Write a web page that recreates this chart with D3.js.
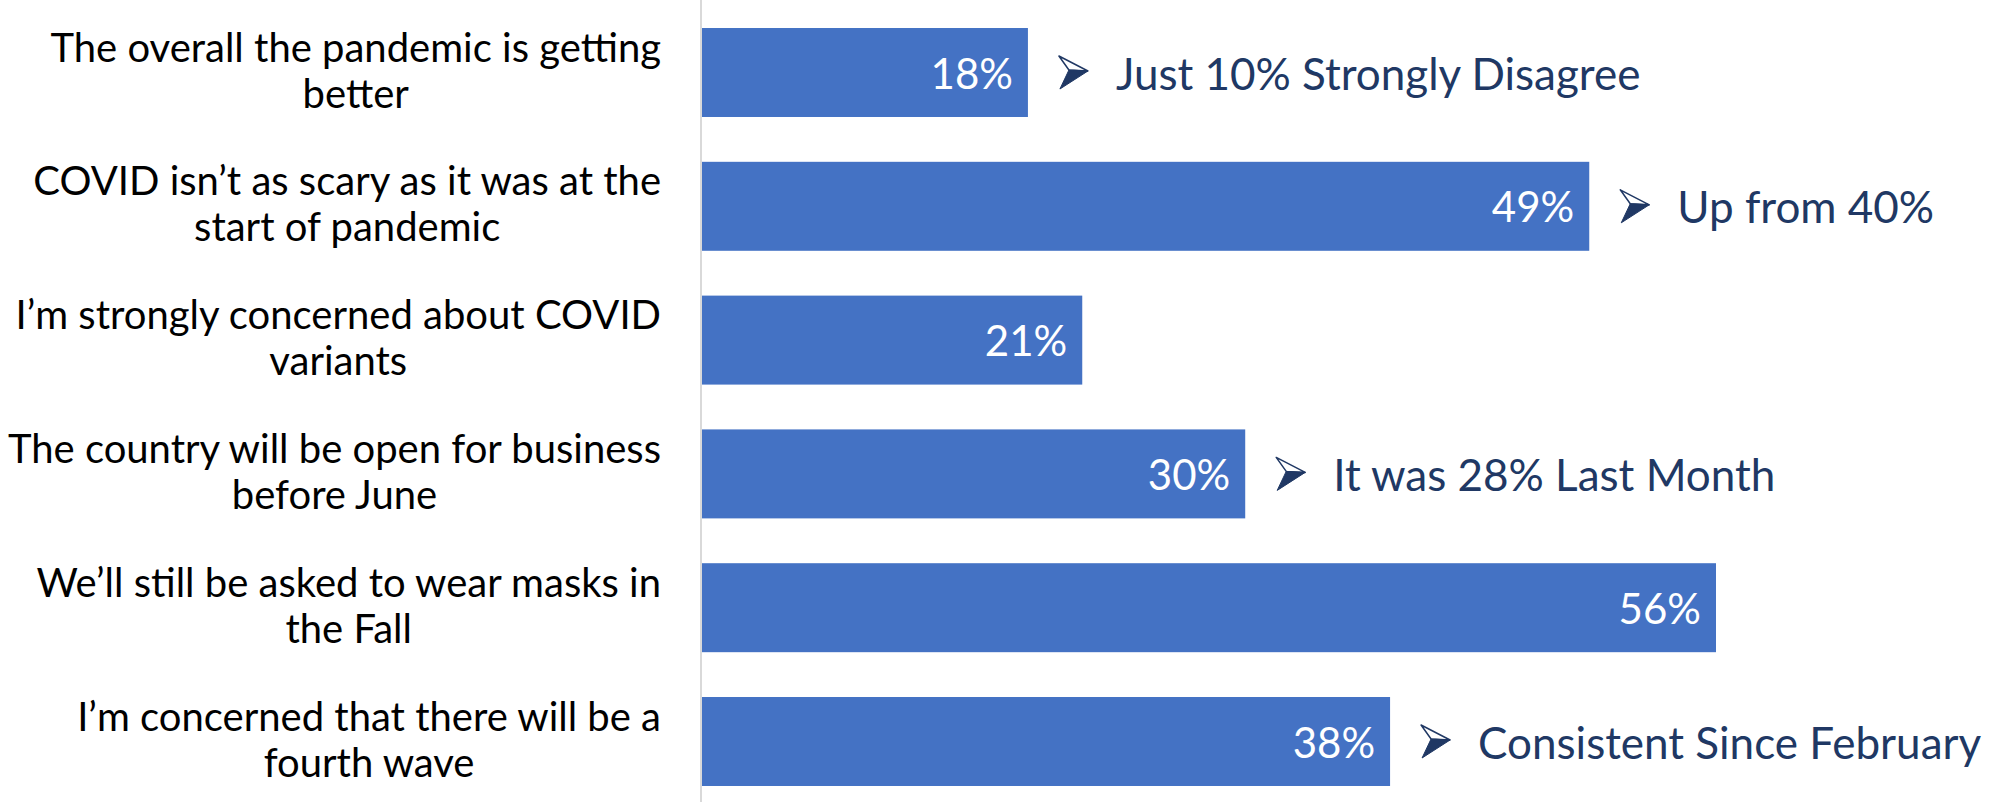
<!DOCTYPE html>
<html>
<head>
<meta charset="utf-8">
<script src="https://cdn.jsdelivr.net/npm/d3@7"></script>
<style>
  body { margin: 0; background: #fff; }
  svg { display: block; }
</style>
</head>
<body>
<div id="chart"></div>
<script>
// statements, two lines each as on the slide
const statements = [
  ['The overall the pandemic is getting', 'better'],
  ['COVID isn\u2019t as scary as it was at the', 'start of pandemic'],
  ['I\u2019m strongly concerned about COVID', 'variants'],
  ['The country will be open for business', 'before June'],
  ['We\u2019ll still be asked to wear masks in', 'the Fall'],
  ['I\u2019m concerned that there will be a', 'fourth wave']
];
const values = [18, 49, 21, 30, 56, 38];
const notes = [
  'Just 10% Strongly Disagree',
  'Up from 40%',
  '',
  'It was 28% Last Month',
  '',
  'Consistent Since February'
];

const width = 2005, height = 802;
const axisX = 702;
const barColor = '#4472C4';
const noteColor = '#203864';
const font = 'Lato, "Open Sans", sans-serif';

const svg = d3.select('#chart').append('svg')
  .attr('width', width)
  .attr('height', height);

const x = d3.scaleLinear()
  .domain([0, 56])
  .range([axisX, 1716]);

const y = d3.scaleBand()
  .domain(d3.range(values.length))
  .range([5.6, 808.4])
  .paddingInner(0.335)
  .paddingOuter(0.1675);

// value axis line
svg.append('line')
  .attr('x1', axisX - 1).attr('x2', axisX - 1)
  .attr('y1', 0).attr('y2', height)
  .attr('stroke', '#d9d9d9')
  .attr('stroke-width', 2);

svg.selectAll('rect.bar')
  .data(values)
  .join('rect')
  .attr('class', 'bar')
  .attr('x', x(0))
  .attr('y', (d, i) => y(i))
  .attr('width', d => x(d) - x(0))
  .attr('height', y.bandwidth())
  .attr('fill', barColor);

const mid = i => y(i) + y.bandwidth() / 2;

// value labels inside the bars
svg.selectAll('text.val')
  .data(values)
  .join('text')
  .attr('class', 'val')
  .attr('x', d => x(d) - 15)
  .attr('y', (d, i) => mid(i))
  .attr('text-anchor', 'end')
  .attr('dominant-baseline', 'central')
  .style('font-family', font)
  .style('font-size', '42px')
  .attr('fill', '#fff')
  .text(d => d + '%');

// category labels: block right aligned, lines centred on each other
const labelRight = 661;
const lineGap = 46;
statements.forEach((lines, i) => {
  const g = svg.append('g');
  const texts = g.selectAll('text')
    .data(lines)
    .join('text')
    .attr('y', (d, j) => mid(i) - 3 + (j - (lines.length - 1) / 2) * lineGap)
    .attr('text-anchor', 'middle')
    .attr('dominant-baseline', 'central')
    .style('font-family', font)
    .style('font-size', '40px')
    .attr('fill', '#000')
    .text(d => d);
  const maxW = d3.max(texts.nodes(), n => n.getComputedTextLength());
  texts.attr('x', labelRight - maxW / 2);
});

// annotations with arrowhead bullets
const arrow = 'M0,0 L29,15 L10,14 Z';
const arrowLow = 'M10,14 L29,15 L1,33 Z';
values.forEach((v, i) => {
  if (!notes[i]) return;
  const g = svg.append('g')
    .attr('transform', `translate(${x(v) + 31},${mid(i) - 16.5})`);
  g.append('path')
    .attr('d', arrow)
    .attr('fill', '#fff')
    .attr('stroke', noteColor)
    .attr('stroke-width', 1.5)
    .attr('stroke-linejoin', 'round');
  g.append('path')
    .attr('d', arrowLow)
    .attr('fill', noteColor)
    .attr('stroke', noteColor)
    .attr('stroke-width', 1)
    .attr('stroke-linejoin', 'round');
  svg.append('text')
    .attr('x', x(v) + 88)
    .attr('y', mid(i))
    .attr('dominant-baseline', 'central')
    .style('font-family', font)
    .style('font-size', '44px')
    .attr('fill', noteColor)
    .text(notes[i]);
});
</script>
</body>
</html>
